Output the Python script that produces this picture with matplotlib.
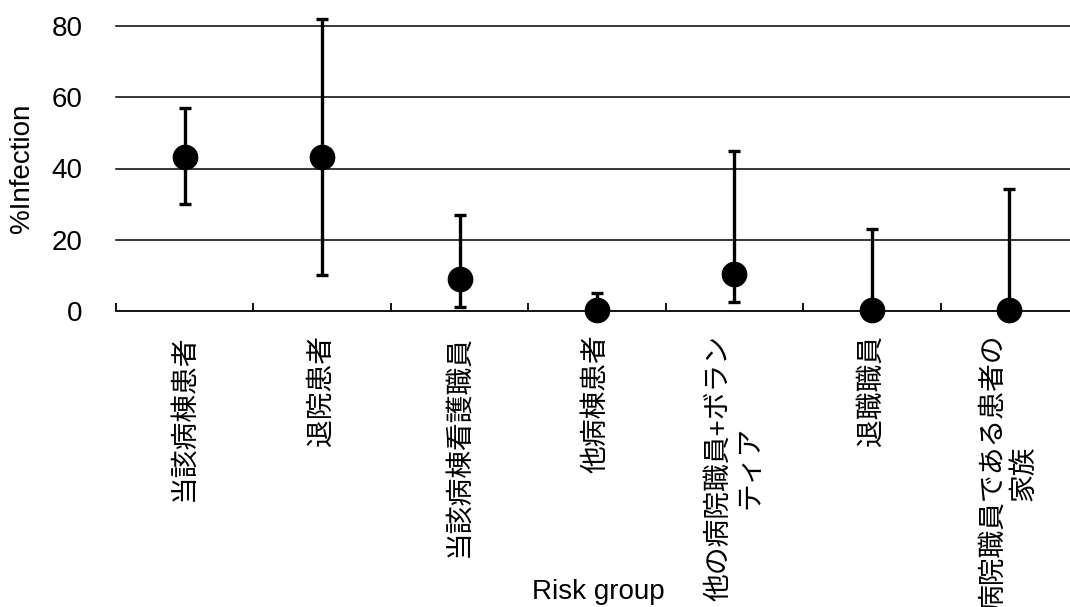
import matplotlib
matplotlib.use("Agg")
import matplotlib.pyplot as plt
from matplotlib.ticker import FixedLocator
import numpy as np

plt.rcParams['font.family'] = ['Liberation Sans', 'Noto Sans CJK JP', 'DejaVu Sans']

categories = ["当該病棟患者", "退院患者", "当該病棟看護職員", "他病棟患者",
              "他の病院職員+ボラン\nティア", "退職職員", "病院職員である患者の\n家族"]
values = [43.3, 43.3, 8.9, 0.3, 10.4, 0.3, 0.3]
lower = [30.0, 10.0, 1.1, 0.0, 2.6, 0.0, 0.0]
upper = [56.9, 81.9, 26.9, 5.1, 44.9, 23.0, 34.2]
yticks = [0, 20, 40, 60, 80]

W, H = 1070, 607
fig = plt.figure(figsize=(W / 100, H / 100), dpi=100)
left, right, bottom_px, top_px = 116, 1078, 311, 26
ax = fig.add_axes([left / W, 1 - bottom_px / H, (right - left) / W, (bottom_px - top_px) / H])

x = np.arange(len(categories))
vals = np.array(values)
yerr = np.array([vals - np.array(lower), np.array(upper) - vals])

ax.set_xlim(-0.5, len(categories) - 0.5)
ax.set_ylim(0, 80)

for yt in yticks[1:]:
    ax.axhline(yt, color='black', lw=1.1, zorder=1, clip_on=False)

eb = ax.errorbar(x, vals, yerr=yerr, fmt='o', color='black', ms=17.5,
                 elinewidth=2.4, capsize=4.5, capthick=2.4, zorder=3)
for artist in eb.lines[1] + eb.lines[2]:
    artist.set_clip_on(False)
eb.lines[0].set_clip_on(False)

for s in ['top', 'right', 'left']:
    ax.spines[s].set_visible(False)
ax.spines['bottom'].set_linewidth(1.3)
ax.spines['bottom'].set_zorder(2)

ax.set_yticks(yticks)
ax.set_yticklabels([str(v) for v in yticks], fontsize=20)
ax.tick_params(axis='y', length=0, pad=24)

ax.set_xticks(x)
ax.set_xticklabels(categories, rotation=90, fontsize=20, ha='center', va='top',
                   multialignment='center', linespacing=1.25)
ax.tick_params(axis='x', which='major', length=0, pad=17)
ax.xaxis.set_minor_locator(FixedLocator(np.arange(-0.5, len(categories), 1.0)))
ax.tick_params(axis='x', which='minor', direction='in', length=6, width=1.3)

ax.set_ylabel('%Infection', fontsize=20, labelpad=12)
fig.text(598 / W, 1 - 592 / H, 'Risk group', fontsize=20, ha='center', va='center')

fig.savefig('out.png', dpi=100)
